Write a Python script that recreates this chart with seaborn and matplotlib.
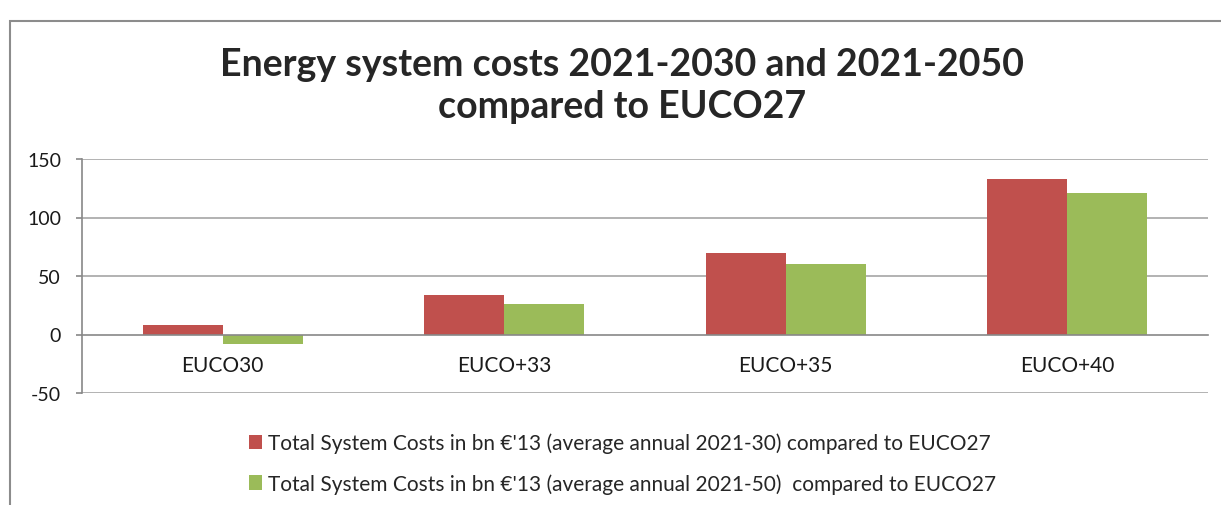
import pandas as pd
import matplotlib.pyplot as plt
import seaborn as sns
from matplotlib.patches import Patch, Rectangle

# Chart data
scenarios = ['EUCO30', 'EUCO+33', 'EUCO+35', 'EUCO+40']
costs_2030 = [8.5, 34, 70, 133]
costs_2050 = [-8.5, 26, 60, 121]
series_names = ["Total System Costs in bn \u20ac'13 (average annual 2021-30) compared to EUCO27",
                "Total System Costs in bn \u20ac'13 (average annual 2021-50)  compared to EUCO27"]
y_ticks = [-50, 0, 50, 100, 150]

df = pd.DataFrame({
    'Scenario': scenarios * 2,
    'Cost': costs_2030 + costs_2050,
    'Series': [series_names[0]] * 4 + [series_names[1]] * 4,
})

sns.set_style("white")
plt.rcParams['font.family'] = ['Lato', 'DejaVu Sans']
plt.rcParams['axes.unicode_minus'] = False

colors = ['#C0504D', '#9BBB59']
grid_col = '#A6A6A6'

fig = plt.figure(figsize=(12.21, 5.06), dpi=100)
ax = fig.add_axes([82 / 1221, 112 / 506, (1208 - 82) / 1221, (394 - 160) / 506])

sns.barplot(data=df, x='Scenario', y='Cost', hue='Series', palette=colors,
            width=0.57, gap=0, saturation=1, ax=ax, legend=False, linewidth=0)

ax.set_ylim(-50, 150)
ax.set_xlim(-0.5, 3.5)
ax.set_yticks(y_ticks)
ax.set_xlabel('')
ax.set_ylabel('')

# gridlines
for v in y_ticks:
    if v != 0:
        ax.axhline(v, color=grid_col, lw=1.2, zorder=0)

for s in ['top', 'right']:
    ax.spines[s].set_visible(False)
ax.spines['left'].set_color('#888888')
ax.spines['left'].set_linewidth(1.2)
ax.spines['bottom'].set_position(('data', 0))
ax.spines['bottom'].set_color('#888888')
ax.spines['bottom'].set_linewidth(1.2)

ax.tick_params(axis='y', direction='out', length=4, width=1.2, color='#888888',
               pad=11, labelsize=14, labelcolor='#1a1a1a', left=True)
ax.set_xticks([-0.5, 0.5, 1.5, 2.5, 3.5], minor=True)
ax.tick_params(axis='x', which='minor', direction='out', length=6, width=1.2, color='#888888')
ax.tick_params(axis='x', which='major', length=0, pad=15, labelsize=15, labelcolor='#1a1a1a')

fig.text(622 / 1221, 1 - 86 / 506, 'Energy system costs 2021-2030 and 2021-2050\ncompared to EUCO27',
         ha='center', va='center', fontsize=27, fontweight='bold', linespacing=1.27)

# outer chart border
fig.patches.append(Rectangle((10 / 1221, -0.1), 1.2, 1.1 - 22 / 506, transform=fig.transFigure,
                             fill=False, edgecolor='#8c8c8c', lw=1.5))

handles = [Patch(facecolor=c, edgecolor='none') for c in colors]
fig.legend(handles, series_names, loc='upper left', bbox_to_anchor=(230 / 1221, 1 - 415 / 506),
           frameon=False, fontsize=15, handlelength=0.65, handleheight=0.7,
           handletextpad=0.25, labelspacing=0.95)

fig.savefig('out.png', dpi=100)
